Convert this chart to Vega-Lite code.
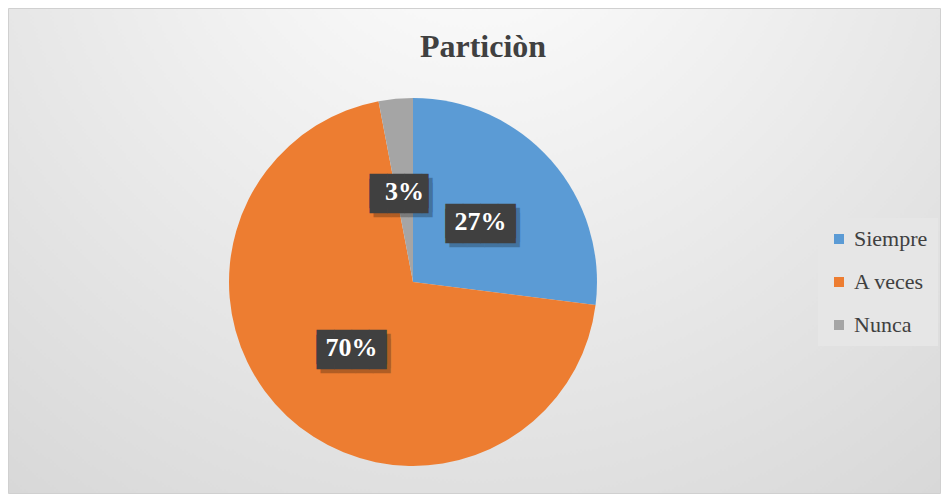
{
  "$schema": "https://vega.github.io/schema/vega-lite/v6.json",
  "width": 932,
  "height": 485,
  "autosize": {"type": "none"},
  "padding": {"left": 8, "top": 8, "right": 5, "bottom": 2},
  "background": "#ffffff",
  "view": {
    "fill": {
      "gradient": "radial",
      "x1": 0.5, "y1": 0.1, "r1": 0,
      "x2": 0.5, "y2": 0.1, "r2": 0.95,
      "stops": [
        {"offset": 0, "color": "#ffffff"},
        {"offset": 1, "color": "#d2d2d2"}
      ]
    },
    "stroke": "#d0d0d0",
    "strokeWidth": 1
  },
  "title": {
    "text": "Particiòn",
    "font": "Liberation Serif, Times New Roman, serif",
    "fontSize": 32,
    "fontWeight": "bold",
    "color": "#404040",
    "anchor": "middle",
    "offset": -56,
    "dx": 9
  },
  "data": {
    "values": [
      {"respuesta": "Siempre", "porcentaje": 0.27, "orden": 1},
      {"respuesta": "A veces", "porcentaje": 0.70, "orden": 2},
      {"respuesta": "Nunca", "porcentaje": 0.03, "orden": 3}
    ]
  },
  "encoding": {
    "theta": {"field": "porcentaje", "type": "quantitative", "stack": true},
    "order": {"field": "orden", "type": "quantitative"}
  },
  "layer": [
    {
      "mark": {"type": "arc", "outerRadius": 184, "x": 405, "y": 274},
      "encoding": {
        "color": {
          "field": "respuesta",
          "type": "nominal",
          "scale": {"domain": ["Siempre", "A veces", "Nunca"], "range": ["#5B9BD5", "#ED7D31", "#A5A5A5"]},
          "legend": {
            "title": null,
            "orient": "none",
            "legendX": 810,
            "legendY": 210,
            "direction": "vertical",
            "symbolType": "square",
            "symbolSize": 100,
            "symbolStrokeWidth": 0,
            "labelFont": "Liberation Serif, Times New Roman, serif",
            "labelFontSize": 22,
            "labelColor": "#404040",
            "labelOffset": 4,
            "fillColor": "#e6e6e6",
            "padding": 10,
            "rowPadding": 21
          }
        }
      }
    },
    {
      "mark": {"type": "text", "x": 405, "y": 274, "radius": 90, "dx": 4, "dy": 4, "font": "DejaVu Sans Mono", "fontSize": 29, "lineHeight": 5, "align": "center", "baseline": "middle", "fill": "#000000", "opacity": 0.25},
      "encoding": {
        "text": {"condition": {"test": "datum.respuesta === 'Nunca'", "value": ["███▍", "███▍"]}, "value": ["████", "████"]}
      }
    },
    {
      "mark": {"type": "text", "x": 405, "y": 274, "radius": 90, "font": "DejaVu Sans Mono", "fontSize": 29, "lineHeight": 5, "align": "center", "baseline": "middle", "fill": "#404040"},
      "encoding": {
        "text": {"condition": {"test": "datum.respuesta === 'Nunca'", "value": ["███▍", "███▍"]}, "value": ["████", "████"]}
      }
    },
    {
      "mark": {"type": "text", "x": 405, "y": 274, "radius": 90, "font": "Liberation Serif, Times New Roman, serif", "fontSize": 26, "fontWeight": "bold", "align": "center", "baseline": "middle", "fill": "#ffffff"},
      "encoding": {
        "text": {"field": "porcentaje", "type": "quantitative", "format": ".0%"}
      }
    }
  ]
}
